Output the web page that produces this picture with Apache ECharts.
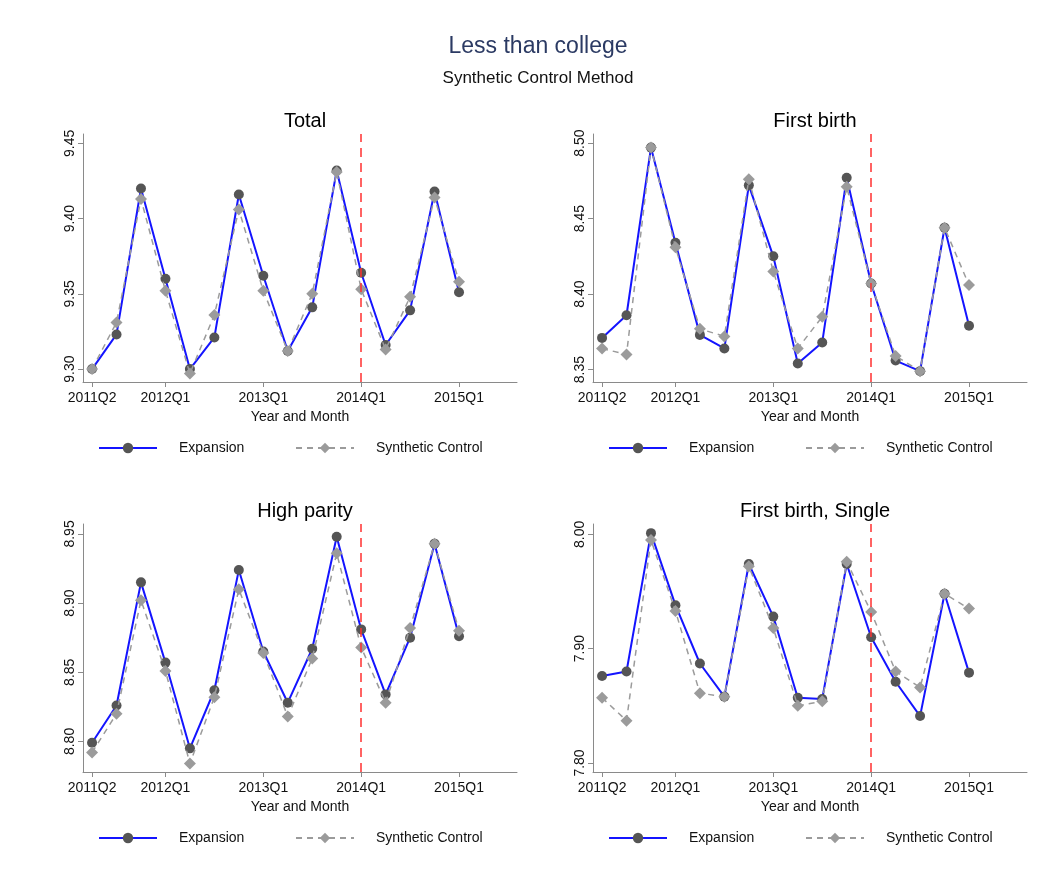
<!DOCTYPE html>
<html>
<head>
<meta charset="utf-8">
<script src="https://cdn.jsdelivr.net/npm/echarts@6/dist/echarts.min.js"></script>
<style>
  html, body { margin: 0; padding: 0; background: #fff; }
  #chart { width: 1053px; height: 890px; }
</style>
</head>
<body>
<div id="chart"></div>
<script>
// quarters on the x axis (index 0 = 2011Q2)
const quarters = ['2011Q2', '2011Q3', '2011Q4', '2012Q1', '2012Q2', '2012Q3', '2012Q4', '2013Q1',
    '2013Q2', '2013Q3', '2013Q4', '2014Q1', '2014Q2', '2014Q3', '2014Q4', '2015Q1'];
const xTickLabels = ['2011Q2', '2012Q1', '2013Q1', '2014Q1', '2015Q1'];
const treatQuarter = '2014Q1';

const panelTitles = ['Total', 'First birth', 'High parity', 'First birth, Single'];

const totalExp = [9.300, 9.323, 9.420, 9.360, 9.300, 9.321, 9.416, 9.362, 9.312, 9.341, 9.432, 9.364, 9.316, 9.339, 9.418, 9.351];
const totalSyn = [9.300, 9.331, 9.413, 9.352, 9.297, 9.336, 9.406, 9.352, 9.312, 9.350, 9.431, 9.353, 9.313, 9.348, 9.414, 9.358];

const firstExp = [8.371, 8.386, 8.497, 8.434, 8.373, 8.364, 8.472, 8.425, 8.354, 8.368, 8.477, 8.407, 8.356, 8.349, 8.444, 8.379];
const firstSyn = [8.364, 8.360, 8.497, 8.431, 8.377, 8.372, 8.476, 8.415, 8.364, 8.385, 8.471, 8.407, 8.359, 8.349, 8.444, 8.406];

const highExp = [8.799, 8.826, 8.915, 8.857, 8.795, 8.837, 8.924, 8.865, 8.828, 8.867, 8.948, 8.881, 8.834, 8.875, 8.943, 8.876];
const highSyn = [8.792, 8.820, 8.902, 8.851, 8.784, 8.832, 8.910, 8.864, 8.818, 8.860, 8.936, 8.868, 8.828, 8.882, 8.943, 8.880];

const singleExp = [7.876, 7.880, 8.001, 7.938, 7.887, 7.858, 7.974, 7.928, 7.857, 7.856, 7.974, 7.910, 7.871, 7.841, 7.948, 7.879];
const singleSyn = [7.857, 7.837, 7.995, 7.933, 7.861, 7.858, 7.972, 7.918, 7.850, 7.854, 7.976, 7.932, 7.880, 7.866, 7.948, 7.935];

const yTicks = [
    [9.30, 9.35, 9.40, 9.45],
    [8.35, 8.40, 8.45, 8.50],
    [8.80, 8.85, 8.90, 8.95],
    [7.80, 7.90, 8.00]
];
const yRange = [[9.2914, 9.4562], [8.3418, 8.5060], [8.7779, 8.9572], [7.7921, 8.0090]];

const expansion = [totalExp, firstExp, highExp, singleExp];
const synthetic = [totalSyn, firstSyn, highSyn, singleSyn];

const font = '"Liberation Sans", Arial, Helvetica, sans-serif';
const axisGray = '#8a8a8a';

// panel placement
const lefts = [83, 593, 83, 593],
    tops = [134, 134, 524, 524],
    gridW = 434,
    gridH = 248;

const xTickIdx = xTickLabels.map((q) => quarters.indexOf(q));

const grids = [], xAxes = [], yAxes = [], series = [], titles = [], legends = [];

titles.push({
    text: 'Less than college',
    left: 533, top: 30, textAlign: 'center',
    textStyle: {fontFamily: font, fontSize: 23, fontWeight: 'normal', color: '#2b3a63'}
});
titles.push({
    text: 'Synthetic Control Method',
    left: 533, top: 65, textAlign: 'center',
    textStyle: {fontFamily: font, fontSize: 17, fontWeight: 'normal', color: '#111'}
});

for (let p = 0; p < 4; p++) {
    grids.push({left: lefts[p], top: tops[p], width: gridW, height: gridH});

    titles.push({
        text: panelTitles[p],
        left: lefts[p] + gridW / 2, top: tops[p] - 28, textAlign: 'center',
        textStyle: {fontFamily: font, fontSize: 20, fontWeight: 'normal', color: '#000'}
    });

    xAxes.push({
        type: 'value', gridIndex: p,
        min: -0.37, max: 17.37,
        name: 'Year and Month', nameLocation: 'middle', nameGap: 28,
        nameTextStyle: {fontFamily: font, fontSize: 14, color: '#111'},
        axisLine: {show: true, onZero: false, lineStyle: {color: axisGray, width: 1}},
        axisTick: {show: true, length: 5, customValues: xTickIdx, lineStyle: {color: axisGray}},
        axisLabel: {
            customValues: xTickIdx, margin: 9,
            fontFamily: font, fontSize: 14, color: '#111',
            formatter: (v) => quarters[Math.round(v)]
        },
        splitLine: {show: false}
    });

    yAxes.push({
        type: 'value', gridIndex: p,
        min: yRange[p][0], max: yRange[p][1],
        axisLine: {show: true, onZero: false, lineStyle: {color: axisGray, width: 1}},
        axisTick: {show: true, length: 5, customValues: yTicks[p], lineStyle: {color: axisGray}},
        axisLabel: {
            customValues: yTicks[p], rotate: 90, margin: 6,
            fontFamily: font, fontSize: 14, color: '#111',
            formatter: (v) => v.toFixed(2)
        },
        splitLine: {show: false}
    });

    series.push({
        name: 'Expansion', type: 'line',
        xAxisIndex: p, yAxisIndex: p,
        data: expansion[p].map((v, i) => [i, v]),
        symbol: 'circle', symbolSize: 10,
        itemStyle: {color: '#555555'},
        lineStyle: {color: '#1414ff', width: 2},
        z: 2,
        markLine: {
            silent: true, symbol: 'none',
            label: {show: false},
            lineStyle: {color: '#ff3030', width: 1.5, type: [9, 6]},
            data: [{xAxis: quarters.indexOf(treatQuarter)}]
        }
    });
    series.push({
        name: 'Synthetic Control', type: 'line',
        xAxisIndex: p, yAxisIndex: p,
        data: synthetic[p].map((v, i) => [i, v]),
        symbol: 'diamond', symbolSize: 12,
        itemStyle: {color: '#9b9b9b'},
        lineStyle: {color: '#9b9b9b', width: 1.5, type: [6, 5]},
        z: 3
    });

    // two legend entries per panel, placed like the original
    const ly = tops[p] + gridH + 65 - 11;
    [['Expansion', 10], ['Synthetic Control', 207]].forEach((item) => {
        legends.push({
            data: [item[0]],
            left: lefts[p] + item[1], top: ly,
            itemWidth: 58, itemHeight: 13,
            selectedMode: false,
            textStyle: {fontFamily: font, fontSize: 14, color: '#111', padding: [0, 0, 0, 17]}
        });
    });
}

const chart = echarts.init(document.getElementById('chart'));
chart.setOption({
    animation: false,
    backgroundColor: '#fff',
    title: titles,
    legend: legends,
    grid: grids,
    xAxis: xAxes,
    yAxis: yAxes,
    series: series
});
</script>
</body>
</html>
